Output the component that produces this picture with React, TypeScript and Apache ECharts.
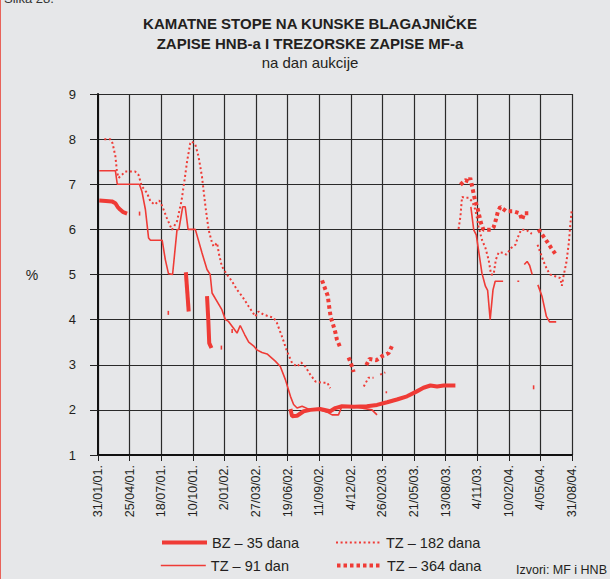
import React, { useEffect, useRef } from "react";
import * as echarts from "echarts";

// x positions are in tick-index units of the date axis (0 = 31/01/01, 15 = 31/08/04)
const xLabels = [
  "31/01/01.", "25/04/01.", "18/07/01.", "10/10/01.", "2/01/02.", "27/03/02.",
  "19/06/02.", "11/09/02.", "4/12/02.", "26/02/03.", "21/05/03.", "13/08/03.",
  "4/11/03.", "10/02/04.", "4/05/04.", "31/08/04.",
];
const yTicks = [1, 2, 3, 4, 5, 6, 7, 8, 9];

const seriesNames = ["BZ – 35 dana", "TZ – 182 dana", "TZ – 91 dan", "TZ – 364 dana"];

const bz35: number[][][] = [
  [[0.04, 6.64], [0.25, 6.63], [0.44, 6.62], [0.55, 6.58], [0.62, 6.5], [0.7, 6.44], [0.8, 6.38], [0.92, 6.35]],
  [[2.78, 5.05], [2.87, 4.18]],
  [[3.45, 4.52], [3.49, 4.0], [3.52, 3.48], [3.59, 3.37]],
  [[6.09, 2.02], [6.14, 1.86], [6.3, 1.87], [6.51, 1.97], [6.72, 2.0], [7.03, 2.02], [7.35, 1.97], [7.51, 2.04],
   [7.72, 2.08], [8.1, 2.07], [8.51, 2.08], [8.83, 2.11], [9.15, 2.17], [9.46, 2.23], [9.78, 2.3], [10.09, 2.41],
   [10.3, 2.49], [10.52, 2.54], [10.73, 2.52], [10.94, 2.54], [11.31, 2.54]],
  [[13.76, 2.5], [13.81, 2.5]],
];

const tz91: number[][][] = [
  [[0.04, 7.3], [0.55, 7.3], [0.61, 7.0], [1.31, 7.0], [1.39, 6.84], [1.5, 6.44], [1.6, 5.81], [1.66, 5.76],
   [2.03, 5.76], [2.13, 5.33], [2.23, 5.02], [2.36, 5.0], [2.5, 5.99], [2.56, 6.0], [2.68, 6.5], [2.76, 6.5],
   [2.85, 6.0], [3.08, 6.0], [3.29, 5.48], [3.45, 5.11], [3.55, 5.0], [3.61, 4.59], [3.92, 4.22], [4.03, 4.0],
   [4.13, 3.96], [4.29, 3.81], [4.4, 3.7], [4.5, 3.87], [4.64, 3.67], [4.77, 3.5], [4.92, 3.42], [5.03, 3.33],
   [5.19, 3.27], [5.35, 3.24], [5.61, 3.08], [5.77, 2.96], [5.93, 2.67], [6.09, 2.3], [6.19, 2.12], [6.3, 2.04],
   [6.46, 2.08], [6.72, 2.0], [7.03, 2.0], [7.25, 1.95], [7.41, 1.89], [7.61, 1.89], [7.72, 2.08], [8.2, 2.06],
   [8.67, 2.0], [8.83, 1.89]],
  [[11.8, 6.5], [11.89, 5.99], [11.97, 5.88], [12.04, 5.55], [12.15, 5.03], [12.26, 4.74], [12.33, 4.65],
   [12.41, 4.0], [12.5, 4.66], [12.57, 4.85], [12.82, 4.85]],
  [[13.27, 4.85], [13.33, 4.85]],
  [[13.49, 5.22], [13.58, 5.29], [13.66, 5.2], [13.74, 5.0]],
  [[13.92, 4.77], [14.05, 4.52], [14.19, 4.07], [14.29, 3.95], [14.5, 3.95]],
];

const tz182: number[][][] = [
  [[0.2, 8.0], [0.39, 8.0], [0.46, 7.91], [0.55, 7.62], [0.6, 7.28], [0.65, 7.14], [0.76, 7.21], [0.86, 7.28],
   [1.18, 7.28], [1.28, 7.21], [1.39, 6.95], [1.55, 6.81], [1.66, 6.62], [1.79, 6.55], [1.94, 6.64], [2.03, 6.52],
   [2.18, 6.25], [2.34, 5.99], [2.5, 6.18], [2.64, 6.62], [2.74, 7.1], [2.82, 7.51], [2.92, 7.91], [2.97, 7.95],
   [3.08, 7.88], [3.18, 7.62], [3.29, 7.17], [3.4, 6.51], [3.5, 5.99], [3.61, 5.7], [3.66, 5.62], [3.77, 5.7],
   [3.82, 5.48], [3.92, 5.18], [4.08, 5.0], [4.24, 4.85], [4.4, 4.66], [4.56, 4.52], [4.77, 4.29], [4.98, 4.07],
   [5.08, 4.18], [5.24, 4.11], [5.56, 4.04], [5.66, 3.93], [5.82, 3.63], [5.98, 3.3], [6.14, 3.04], [6.3, 2.96],
   [6.43, 3.05], [6.56, 2.96], [6.72, 2.78], [6.88, 2.63], [7.09, 2.6], [7.26, 2.6], [7.35, 2.48]],
  [[8.41, 2.52], [8.56, 2.71], [8.72, 2.71]],
  [[8.93, 2.78], [9.09, 2.83]],
  [[9.1, 2.39], [9.15, 2.39]],
  [[11.41, 6.01], [11.47, 6.29], [11.52, 6.72], [11.62, 6.7], [11.73, 6.7], [11.84, 6.62], [11.94, 6.44],
   [12.04, 6.07], [12.15, 5.77], [12.26, 5.59], [12.36, 5.33], [12.44, 5.0], [12.52, 5.0], [12.59, 5.33],
   [12.68, 5.49], [12.82, 5.48], [12.92, 5.44], [13.08, 5.59], [13.21, 5.66], [13.29, 5.83], [13.39, 5.99],
   [13.55, 5.99], [13.73, 5.9]],
  [[13.91, 5.66], [14.0, 5.48], [14.1, 5.29], [14.21, 5.11], [14.31, 5.0], [14.47, 4.96], [14.63, 4.92],
   [14.68, 4.75], [14.73, 4.96], [14.82, 5.26], [14.9, 5.7], [14.95, 6.14], [14.99, 6.42]],
];

const tz364: number[][][] = [
  [[1.29, 6.35], [1.34, 6.35]],
  [[2.2, 4.15], [2.25, 4.15]],
  [[3.88, 3.38], [3.93, 3.38]],
  [[4.22, 3.75], [4.27, 3.75]],
  [[7.09, 4.87], [7.19, 4.68], [7.27, 4.53], [7.3, 4.37], [7.33, 4.21], [7.37, 4.04], [7.44, 3.89], [7.51, 3.72],
   [7.56, 3.56], [7.65, 3.41]],
  [[7.93, 3.16], [8.02, 3.0], [8.09, 2.84]],
  [[8.49, 2.99], [8.59, 3.13], [8.81, 3.1], [8.99, 3.19], [9.2, 3.26], [9.3, 3.41]],
  [[11.47, 6.99], [11.62, 7.09], [11.73, 7.06], [11.78, 7.14], [11.84, 6.95], [11.89, 6.78], [11.94, 6.62],
   [12.01, 6.47], [12.07, 6.29], [12.12, 6.14], [12.2, 5.99], [12.44, 5.99], [12.52, 6.05], [12.59, 6.21],
   [12.65, 6.38], [12.73, 6.5], [12.92, 6.4], [13.15, 6.4], [13.34, 6.36], [13.42, 6.21], [13.49, 6.36],
   [13.68, 6.36]],
  [[13.94, 6.0], [14.08, 5.86], [14.21, 5.73], [14.34, 5.59], [14.47, 5.46]],
];

const RED = "#ef3b36";
const FONT = "Liberation Sans, Arial, Helvetica, sans-serif";

const styles: Record<string, any> = {
  [seriesNames[0]]: { width: 4, type: "solid" },
  [seriesNames[1]]: { width: 2, type: [2, 2.6] },
  [seriesNames[2]]: { width: 1.6, type: "solid" },
  [seriesNames[3]]: { width: 4, type: [3.5, 3] },
};

function makeSeries(name: string, segments: number[][][], z: number) {
  return segments.map((seg) => ({
    type: "line",
    name,
    data: seg,
    symbol: "none",
    showSymbol: false,
    z,
    lineStyle: { color: RED, ...styles[name] },
    itemStyle: { color: RED },
    emphasis: { disabled: true },
  }));
}

export default function App() {
  const ref = useRef<HTMLDivElement>(null);
  useEffect(() => {
    if (!ref.current) return;
    const chart = echarts.init(ref.current, undefined, { renderer: "svg" });
    const legendPos = [
      { left: 155, top: 530 },
      { left: 330, top: 530 },
      { left: 155, top: 553 },
      { left: 330, top: 553 },
    ];
    chart.setOption({
      animation: false,
      backgroundColor: "#e6e7e9",
      textStyle: { fontFamily: FONT },
      grid: { left: 98, right: 38, top: 94, bottom: 124, containLabel: false },
      xAxis: {
        type: "value",
        min: 0,
        max: xLabels.length - 1,
        interval: 1,
        axisLine: { show: true, onZero: false, lineStyle: { color: "#111", width: 2 } },
        axisTick: { show: true, length: 6, lineStyle: { color: "#222", width: 1 } },
        axisLabel: {
          rotate: 90,
          margin: 10,
          fontSize: 12.5,
          color: "#231f20",
          fontFamily: FONT,
          formatter: (v: number) => xLabels[Math.round(v)] ?? "",
        },
        splitLine: { show: true, lineStyle: { color: "#2a2a2a", width: 1.2 } },
      },
      yAxis: {
        type: "value",
        min: yTicks[0],
        max: yTicks[yTicks.length - 1],
        interval: 1,
        axisLine: { show: true, lineStyle: { color: "#111", width: 2 } },
        axisTick: { show: true, length: 8, lineStyle: { color: "#222", width: 1 } },
        axisLabel: { margin: 22, fontSize: 13, color: "#231f20", fontFamily: FONT },
        splitLine: { show: true, lineStyle: { color: "#2a2a2a", width: 1.2 } },
      },
      legend: seriesNames.map((n, i) => ({
        data: [n],
        left: legendPos[i].left,
        top: legendPos[i].top,
        itemWidth: 45,
        itemHeight: 14,
        selectedMode: false,
        lineStyle: { color: RED, ...styles[n] },
        itemStyle: { color: RED, opacity: 0, borderWidth: 0 },
        textStyle: { fontSize: 14.5, color: "#231f20", fontFamily: FONT },
      })),
      graphic: [
        { type: "line", shape: { x1: 0.5, y1: 0, x2: 0.5, y2: 579 }, style: { stroke: "#e8635a", lineWidth: 1 } },
        { type: "text", x: 4, y: -2, style: { text: "Slika 28.", fontSize: 13, fontFamily: FONT, fill: "#333", textVerticalAlign: "middle" } },
        {
          type: "text", x: 310, y: 23,
          style: { text: "KAMATNE STOPE NA KUNSKE BLAGAJNIČKE", fontSize: 15, fontWeight: "bold", fontFamily: FONT, fill: "#231f20", textAlign: "center", textVerticalAlign: "middle" },
        },
        {
          type: "text", x: 310, y: 43,
          style: { text: "ZAPISE HNB-a I TREZORSKE ZAPISE MF-a", fontSize: 15, fontWeight: "bold", fontFamily: FONT, fill: "#231f20", textAlign: "center", textVerticalAlign: "middle" },
        },
        {
          type: "text", x: 310, y: 62,
          style: { text: "na dan aukcije", fontSize: 15, fontFamily: FONT, fill: "#231f20", textAlign: "center", textVerticalAlign: "middle" },
        },
        { type: "text", x: 32, y: 275, style: { text: "%", fontSize: 14, fontFamily: FONT, fill: "#231f20", textAlign: "center", textVerticalAlign: "middle" } },
        { type: "text", x: 607, y: 570, style: { text: "Izvori: MF i HNB", fontSize: 12.5, fontFamily: FONT, fill: "#231f20", textAlign: "right", textVerticalAlign: "middle" } },
      ],
      series: [
        ...makeSeries(seriesNames[1], tz182, 2),
        ...makeSeries(seriesNames[3], tz364, 3),
        ...makeSeries(seriesNames[2], tz91, 4),
        ...makeSeries(seriesNames[0], bz35, 5),
      ],
    });
    return () => chart.dispose();
  }, []);
  return (
    <div
      ref={ref}
      style={{ position: "fixed", left: 0, top: 0, width: 610, height: 579, background: "#e6e7e9" }}
    />
  );
}
